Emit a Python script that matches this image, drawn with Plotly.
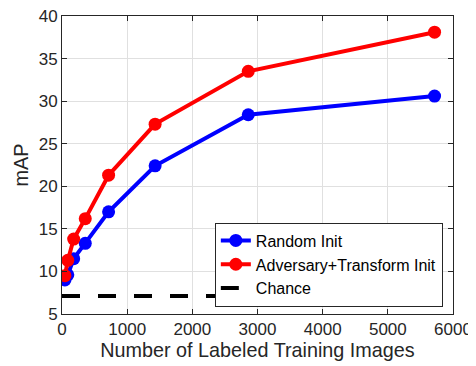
import plotly.graph_objects as go

n_images = [45, 89, 179, 357, 715, 1429, 2858, 5717]
random_init = [9.0, 9.6, 11.5, 13.3, 17.0, 22.4, 28.4, 30.6]
adv_init = [9.5, 11.3, 13.8, 16.2, 21.3, 27.3, 33.5, 38.1]
chance_x = [0, 5717]
chance_y = [7.1, 7.1]

fig = go.Figure()
fig.add_trace(go.Scatter(x=n_images, y=random_init, mode="lines+markers", name="Random Init",
                         line=dict(color="#0000ff", width=4), marker=dict(size=13, color="#0000ff")))
fig.add_trace(go.Scatter(x=n_images, y=adv_init, mode="lines+markers", name="Adversary+Transform Init",
                         line=dict(color="#ff0000", width=4), marker=dict(size=13, color="#ff0000")))
fig.add_trace(go.Scatter(x=chance_x, y=chance_y, mode="lines", name="Chance",
                         line=dict(color="black", width=4, dash="18px,18px")))

axis_common = dict(showline=True, linecolor="#262626", linewidth=1, mirror="ticks",
                   ticks="inside", ticklen=5, tickcolor="#262626", automargin=False,
                   ticklabeloverflow="allow",
                   showgrid=True, gridcolor="#e0e0e0", gridwidth=1, zeroline=False,
                   tickfont=dict(family="Liberation Sans, Arial", size=17, color="#262626"))

# page body has an 8px default margin, so the figure is offset by 8px
fig.update_layout(
    width=476, height=366,
    margin=dict(l=54, r=31, t=8, b=60),
    plot_bgcolor="white", paper_bgcolor="white",
    font=dict(family="Liberation Sans, Arial", color="#262626"),
    xaxis=dict(range=[0, 6000], dtick=1000, tick0=0,
               title=dict(text="Number of Labeled Training Images", font=dict(size=19.8), standoff=2),
               **axis_common),
    yaxis=dict(range=[5, 40], dtick=5, tick0=5,
               title=dict(text="mAP", font=dict(size=19.8), standoff=4),
               **axis_common),
    legend=dict(x=0.974, y=0.025, xanchor="right", yanchor="bottom",
                bgcolor="white", bordercolor="#262626", borderwidth=1,
                font=dict(size=16, color="black"), tracegroupgap=0,
                itemwidth=30),
    showlegend=True,
)

fig.write_html("out.html")
